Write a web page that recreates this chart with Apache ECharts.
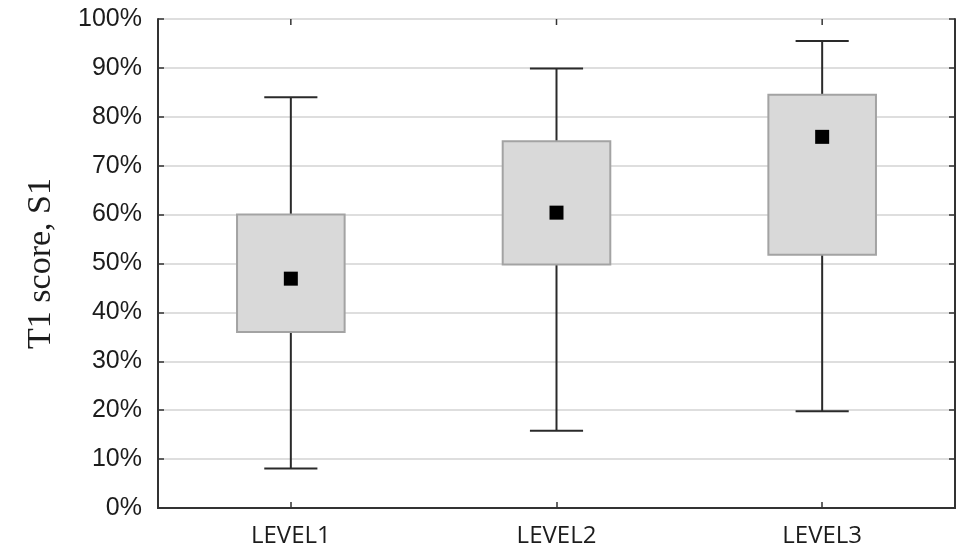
<!DOCTYPE html>
<html>
<head>
<meta charset="utf-8">
<script src="https://cdn.jsdelivr.net/npm/echarts@6/dist/echarts.min.js"></script>
<style>
html,body{margin:0;padding:0;background:#fff;}
#chart{width:959px;height:554px;}
</style>
</head>
<body>
<div id="chart"></div>
<script>
var categories = ['LEVEL1', 'LEVEL2', 'LEVEL3'];
var whiskerLow = [8.1, 15.8, 19.8];
var boxLow = [36.0, 49.8, 51.8];
var boxHigh = [60.0, 75.0, 84.5];
var whiskerHigh = [84.0, 89.9, 95.5];
var means = [46.9, 60.4, 75.9];
var yTicks = [0, 10, 20, 30, 40, 50, 60, 70, 80, 90, 100];
var yMax = 100;

var boxData = categories.map(function (c, i) {
  return [i, whiskerLow[i], boxLow[i], boxHigh[i], whiskerHigh[i]];
});
var meanData = categories.map(function (c, i) { return [i, means[i]]; });

var chart = echarts.init(document.getElementById('chart'), null, {renderer: 'canvas'});

function renderBox(params, api) {
  var idx = api.value(0);
  var pLow = api.coord([idx, api.value(1)]);
  var pQ1 = api.coord([idx, api.value(2)]);
  var pQ3 = api.coord([idx, api.value(3)]);
  var pHigh = api.coord([idx, api.value(4)]);
  var pTop = api.coord([idx, yMax]);
  var band = api.size([1, 0])[0];
  var bw = band * 0.405;
  var cw = band * 0.2;
  var x = pQ1[0];
  var lineStyle = {stroke: '#2a2a2a', lineWidth: 2, fill: null};
  return {
    type: 'group',
    children: [
      {type: 'line', shape: {x1: x, y1: pTop[1], x2: x, y2: pTop[1] + 6}, style: {stroke: '#333', lineWidth: 1.5}},
      {type: 'line', shape: {x1: x, y1: pHigh[1], x2: x, y2: pQ3[1]}, style: lineStyle},
      {type: 'line', shape: {x1: x, y1: pQ1[1], x2: x, y2: pLow[1]}, style: lineStyle},
      {type: 'line', shape: {x1: x - cw / 2, y1: pHigh[1], x2: x + cw / 2, y2: pHigh[1]}, style: lineStyle},
      {type: 'line', shape: {x1: x - cw / 2, y1: pLow[1], x2: x + cw / 2, y2: pLow[1]}, style: lineStyle},
      {type: 'rect', shape: {x: x - bw / 2, y: pQ3[1], width: bw, height: pQ1[1] - pQ3[1]},
        style: {fill: '#d9d9d9', stroke: '#a3a3a3', lineWidth: 2}}
    ]
  };
}

var textColor = '#1c1c1c';
var option = {
  animation: false,
  backgroundColor: '#ffffff',
  grid: {left: 158, right: 4, top: 19, bottom: 46, containLabel: false},
  xAxis: [
    {
      type: 'category', data: categories, position: 'bottom',
      axisLine: {show: true, lineStyle: {color: '#333', width: 2}},
      axisTick: {show: true, inside: true, alignWithLabel: true, interval: 0, length: 6, lineStyle: {color: '#333', width: 1.5}},
      axisLabel: {color: textColor, fontFamily: 'Open Sans', fontSize: 24, margin: 16, interval: 0},
      splitLine: {show: false}
    },
    {
      type: 'category', data: categories, position: 'top',
      axisLine: {show: true, lineStyle: {color: '#333', width: 2}},
      axisTick: {show: false},
      axisLabel: {show: false},
      splitLine: {show: false}
    }
  ],
  yAxis: [
    {
      type: 'value', min: 0, max: yMax, interval: 10, position: 'left',
      name: 'T1 score, S1', nameLocation: 'middle', nameRotate: 90, nameGap: 100,
      nameTextStyle: {fontFamily: 'Liberation Serif', fontSize: 34, color: textColor},
      axisLine: {show: true, lineStyle: {color: '#333', width: 2}},
      axisTick: {show: true, inside: true, length: 6, lineStyle: {color: '#333', width: 1.5}},
      axisLabel: {color: textColor, fontFamily: 'Liberation Sans', fontSize: 25, margin: 16,
        formatter: function (v) { return yTicks.indexOf(v) >= 0 ? v + '%' : ''; }},
      splitLine: {show: true, lineStyle: {color: '#dedede', width: 2}}
    },
    {
      type: 'value', min: 0, max: yMax, interval: 10, position: 'right',
      axisLine: {show: true, lineStyle: {color: '#333', width: 2}},
      axisTick: {show: true, inside: true, length: 6, lineStyle: {color: '#333', width: 1.5}},
      axisLabel: {show: false},
      splitLine: {show: false}
    }
  ],
  series: [
    {
      type: 'custom', xAxisIndex: 0, yAxisIndex: 0,
      renderItem: renderBox,
      encode: {x: 0, y: [1, 2, 3, 4]},
      data: boxData, z: 2, clip: false
    },
    {
      type: 'scatter', xAxisIndex: 1, yAxisIndex: 1,
      symbol: 'rect', symbolSize: 14,
      itemStyle: {color: '#000', opacity: 1},
      data: meanData, z: 3
    }
  ]
};
chart.setOption(option);
</script>
</body>
</html>
